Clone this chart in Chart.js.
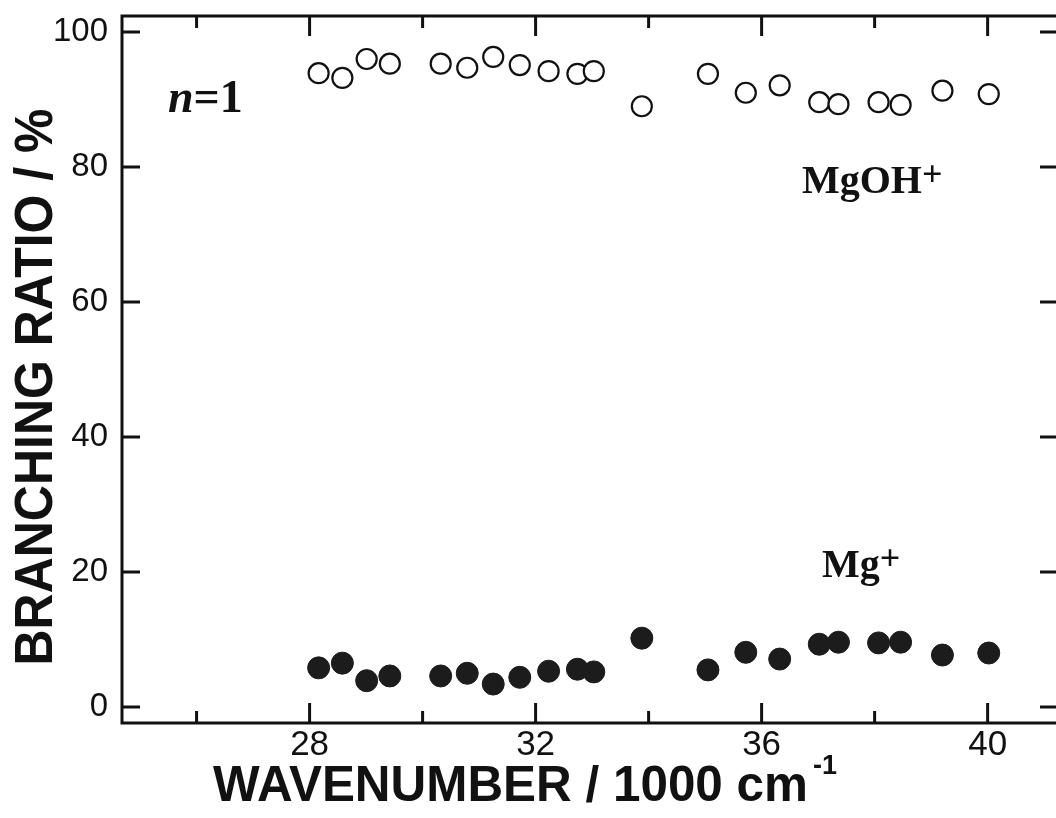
<!doctype html>
<html lang="en">
  <head>
    <meta charset="utf-8">
    <title>Branching ratio n=1</title>
    <style>
      * { margin: 0; padding: 0; }
      body { background: #fff; }
      .chartBox { width: 1056px; height: 818px; }
    </style>
  </head>
  <body>
    <div class="chartBox">
      <canvas id="myChart"></canvas>
    </div>

    <script src="https://cdn.jsdelivr.net/npm/chart.js"></script>
    <script>
    // data
    const wavenumber = [28.16, 28.58, 29.01, 29.42, 30.32, 30.79, 31.25, 31.72, 32.23, 32.74, 33.03,
                        33.88, 35.05, 35.72, 36.32, 37.02, 37.36, 38.07, 38.46, 39.20, 40.02];
    const mgohRatio = [93.9, 93.2, 96.0, 95.3, 95.3, 94.7, 96.3, 95.1, 94.2, 93.8, 94.2,
                       89.0, 93.8, 91.0, 92.1, 89.6, 89.3, 89.6, 89.2, 91.3, 90.8];
    const mgRatio = [5.8, 6.5, 3.9, 4.6, 4.6, 5.0, 3.4, 4.4, 5.3, 5.6, 5.2,
                     10.2, 5.5, 8.1, 7.1, 9.3, 9.6, 9.5, 9.6, 7.7, 8.0];
    const xTicks = [26, 28, 30, 32, 34, 36, 38, 40];
    const xLabelled = [28, 32, 36, 40];
    const yTicks = [0, 20, 40, 60, 80, 100];

    const ink = '#111';
    const sans = '"Liberation Sans", Arial, sans-serif';
    const serif = '"Liberation Serif", "Times New Roman", serif';

    // text squeezed to a given width (the original lettering is narrow)
    function fitText(ctx, text, x, y, width) {
      const w = ctx.measureText(text).width;
      ctx.save();
      ctx.translate(x, y);
      ctx.scale(width / w, 1);
      ctx.fillText(text, 0, 0);
      ctx.restore();
    }

    // frame, inward ticks and free text
    const decor = {
      id: 'decor',
      afterDraw(chart) {
        const ctx = chart.ctx;
        const a = chart.chartArea;
        const xs = chart.scales.x, ys = chart.scales.y;
        const right = a.right + 2;
        ctx.save();
        ctx.strokeStyle = ink;
        ctx.lineWidth = 3;
        ctx.beginPath();
        ctx.moveTo(right, a.top); ctx.lineTo(a.left, a.top);
        ctx.lineTo(a.left, a.bottom); ctx.lineTo(right, a.bottom);
        ctx.stroke();

        ctx.beginPath();
        xTicks.forEach(v => {
          const px = xs.getPixelForValue(v);
          const len = xLabelled.includes(v) ? 20 : 12;
          ctx.moveTo(px, a.bottom); ctx.lineTo(px, a.bottom - len);
          ctx.moveTo(px, a.top); ctx.lineTo(px, a.top + len);
        });
        yTicks.forEach(v => {
          const py = ys.getPixelForValue(v);
          ctx.moveTo(a.left, py); ctx.lineTo(a.left + 18, py);
          ctx.moveTo(right, py); ctx.lineTo(right - 18, py);
        });
        ctx.stroke();

        ctx.fillStyle = ink;
        ctx.textBaseline = 'alphabetic';
        // axis titles
        ctx.textAlign = 'left';
        ctx.font = 'bold 50px ' + sans;
        fitText(ctx, 'WAVENUMBER / 1000 cm', 213, 801, 595);
        ctx.font = 'bold 27px ' + sans;
        ctx.fillText('-1', 813, 774);

        ctx.save();
        ctx.translate(52, 387);
        ctx.rotate(-Math.PI / 2);
        ctx.font = 'bold 53px ' + sans;
        ctx.textAlign = 'center';
        fitText(ctx, 'BRANCHING RATIO / %', 0, 0, 557);
        ctx.restore();

        // labels inside the plot
        ctx.textAlign = 'left';
        ctx.font = 'italic bold 46px ' + serif;
        ctx.fillText('n', 168, 112);
        const nw = ctx.measureText('n').width;
        ctx.font = 'bold 46px ' + serif;
        ctx.fillText('=1', 168 + nw, 112);

        ctx.font = 'bold 40px ' + serif;
        ctx.fillText('MgOH', 802, 193);
        const mw = ctx.measureText('MgOH').width;
        ctx.fillText('Mg', 822, 577);
        const gw = ctx.measureText('Mg').width;
        ctx.font = 'bold 36px ' + serif;
        ctx.fillText('+', 802 + mw, 186);
        ctx.fillText('+', 822 + gw, 570);
        ctx.restore();
      }
    };

    const data = {
      datasets: [{
        label: 'MgOH+',
        data: wavenumber.map((x, i) => ({ x: x, y: mgohRatio[i] })),
        pointRadius: 10,
        pointBorderWidth: 2.2,
        pointBackgroundColor: '#fff',
        pointBorderColor: ink,
        showLine: false,
        clip: false
      }, {
        label: 'Mg+',
        data: wavenumber.map((x, i) => ({ x: x, y: mgRatio[i] })),
        pointRadius: 11,
        pointBorderWidth: 1,
        pointBackgroundColor: '#1c1c1c',
        pointBorderColor: '#1c1c1c',
        showLine: false,
        clip: false
      }]
    };

    const config = {
      type: 'scatter',
      data,
      options: {
        responsive: true,
        maintainAspectRatio: false,
        animation: false,
        events: [],
        layout: { autoPadding: false, padding: { top: 16, right: 0, left: 0, bottom: 0 } },
        plugins: { legend: { display: false }, tooltip: { enabled: false } },
        scales: {
          x: {
            type: 'linear',
            min: 24.68,
            max: 41.21,
            afterBuildTicks: s => { s.ticks = xTicks.map(v => ({ value: v })); },
            afterFit: s => { s.height = 95; s.paddingLeft = 0; s.paddingRight = 0; },
            grid: { display: false, drawTicks: false },
            border: { display: false },
            ticks: {
              padding: 1,
              color: ink,
              maxRotation: 0,
              autoSkip: false,
              font: { family: sans, size: 35 },
              callback: v => xLabelled.includes(v) ? String(v) : ''
            }
          },
          y: {
            min: -2.37,
            max: 102.37,
            afterBuildTicks: s => { s.ticks = yTicks.map(v => ({ value: v })); },
            afterFit: s => { s.width = 122; s.paddingTop = 0; s.paddingBottom = 0; },
            grid: { display: false, drawTicks: false },
            border: { display: false },
            ticks: {
              padding: 14,
              color: ink,
              font: { family: sans, size: 33 }
            }
          }
        }
      },
      plugins: [decor]
    };

    new Chart(document.getElementById('myChart'), config);
    </script>
  </body>
</html>
